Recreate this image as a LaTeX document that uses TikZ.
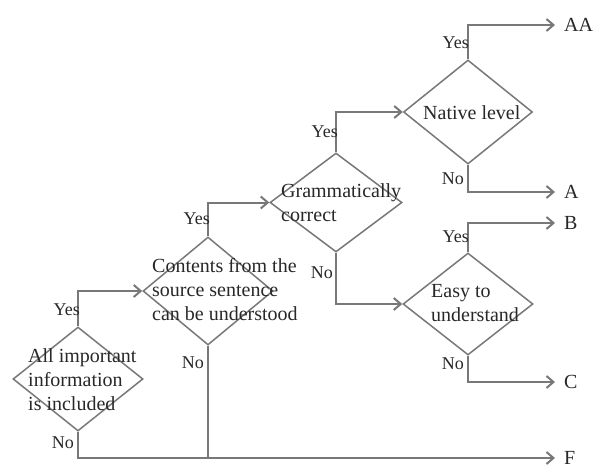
\documentclass[tikz,border=0pt]{standalone}
\usepackage{fontspec}
\setmainfont{Liberation Serif}
\usetikzlibrary{shapes.geometric,arrows.meta}
\definecolor{linegray}{RGB}{120,120,120}
\definecolor{txtgray}{RGB}{40,40,40}
\begin{document}
\begin{tikzpicture}[x=1pt,y=-1pt,
  dec/.style 2 args={diamond,draw=linegray,line width=1.5pt,inner sep=0pt,minimum width=#1,minimum height=#2},
  txt/.style={font=\fontsize{20}{24}\selectfont,text=txtgray,align=left,inner sep=0pt,anchor=west},
  lbl/.style={font=\fontsize{18}{20}\selectfont,text=txtgray,inner sep=0pt,anchor=east},
  outc/.style={font=\fontsize{20}{24}\selectfont,text=txtgray,inner xsep=9pt,inner ysep=0pt,anchor=west},
  conn/.style={draw=linegray,line width=2pt},
  arr/.style={conn,-{Straight Barb[length=7pt,width=12pt]}}]
\useasboundingbox[fill=white] (0,0) rectangle (607,468);
% decisions
\node[dec={130}{104}] (d1) at (78,379) {};
\node[dec={130}{108}] (d2) at (208,291) {};
\node[dec={132}{99}]  (d3) at (336,202.5) {};
\node[dec={129}{104}] (d4) at (468,112) {};
\node[dec={130}{102}] (d5) at (468,304) {};
% texts
\node[txt] (t1) at (28,380) {All important\\information\\is included};
\node[txt] (t2) at (152,290) {Contents from the\\source sentence\\can be understood};
\node[txt] (t3) at (281,203) {Grammatically\\correct};
\node[txt] (t4) at (423,113) {Native level};
\node[txt] (t5) at (431,303.5) {Easy to\\understand};
% outcomes
\node[outc] (AA) at (555,25) {AA};
\node[outc] (A) at (555,192) {A};
\node[outc] (B) at (555,223) {B};
\node[outc] (C) at (555,382) {C};
\node[outc] (F) at (555,458) {F};
% connectors
\draw[arr] (d1.north) |- (d2.west);
\draw[arr] (d1.south) |- (F.west);
\draw[arr] (d2.north) |- (d3.west);
\draw[conn] (d2.south) -- (d2.south |- F.west);
\draw[arr] (d3.north) |- (d4.west);
\draw[arr] (d3.south) |- (d5.west);
\draw[arr] (d4.north) |- (AA.west);
\draw[arr] (d4.south) |- (A.west);
\draw[arr] (d5.north) |- (B.west);
\draw[arr] (d5.south) |- (C.west);
% labels
\node[lbl] (y1) at (80,310) {Yes};
\node[lbl] (n1) at (74,443) {No};
\node[lbl] (y2) at (210,219) {Yes};
\node[lbl] (n2) at (204,363) {No};
\node[lbl] (y3) at (338,132) {Yes};
\node[lbl] (n3) at (333,273) {No};
\node[lbl] (y4) at (469,43) {Yes};
\node[lbl] (n4) at (464,179) {No};
\node[lbl] (y5) at (469,237) {Yes};
\node[lbl] (n5) at (464,364) {No};
\end{tikzpicture}
\end{document}
